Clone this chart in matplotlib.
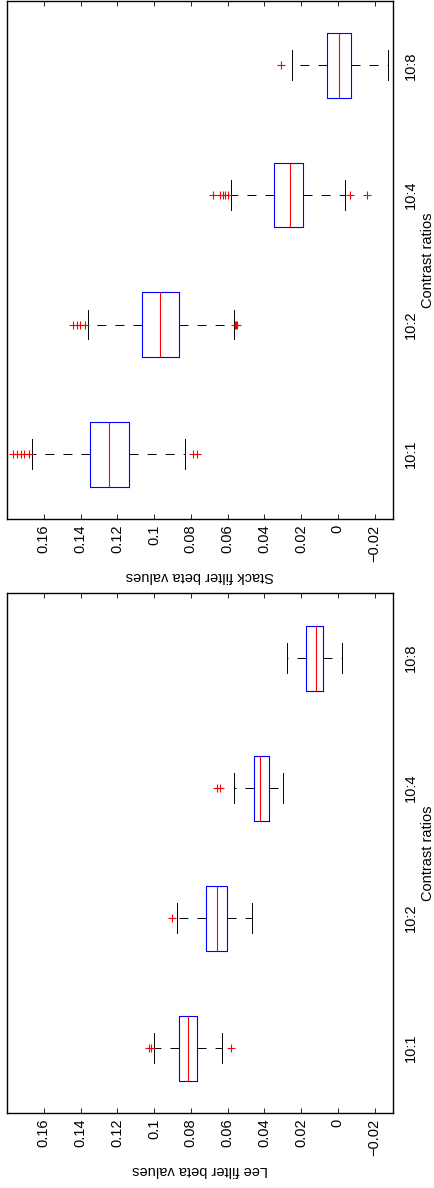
import matplotlib
matplotlib.use("Agg")
import matplotlib.pyplot as plt

plt.rcParams['font.family'] = ['Liberation Sans', 'DejaVu Sans']
plt.rcParams['lines.scale_dashes'] = False

# categories (bottom to top after rotation)
ratios = ["10:1", "10:2", "10:4", "10:8"]
value_ticks = [0.16, 0.14, 0.12, 0.1, 0.08, 0.06, 0.04, 0.02, 0, -0.02]
value_tick_labels = ["0.16", "0.14", "0.12", "0.1", "0.08", "0.06", "0.04", "0.02", "0", "\u22120.02"]

# Lee filter box stats
lee_med = [0.0815, 0.0659, 0.0422, 0.0120]
lee_q1 = [0.0764, 0.0604, 0.0374, 0.0081]
lee_q3 = [0.0864, 0.0719, 0.0454, 0.0173]
lee_lo = [0.0630, 0.0465, 0.0297, -0.0021]
lee_hi = [0.0998, 0.0875, 0.0563, 0.0278]
lee_out = [[0.1016, 0.1030, 0.0581], [0.0902], [0.0656, 0.0641], []]

# Stack filter box stats
stack_med = [0.1246, 0.0966, 0.0262, -0.0008]
stack_q1 = [0.1134, 0.0862, 0.0188, -0.0072]
stack_q3 = [0.1348, 0.1064, 0.0345, 0.0061]
stack_lo = [0.0831, 0.0566, -0.0041, -0.0271]
stack_hi = [0.1665, 0.1357, 0.0581, 0.0249]
stack_out = [[0.1765, 0.1744, 0.1725, 0.1707, 0.1678, 0.0786, 0.0768],
             [0.1439, 0.1420, 0.1402, 0.1375, 0.0559, 0.0554, 0.0548],
             [0.0677, 0.0641, 0.0626, 0.0612, 0.0597, -0.0066, -0.0157],
             [0.0309]]


def make_stats(med, q1, q3, lo, hi, out):
    stats = []
    for i in range(len(med)):
        stats.append(dict(med=med[i], q1=q1[i], q3=q3[i], whislo=lo[i],
                          whishi=hi[i], fliers=out[i]))
    return stats


W, H = 435, 1188
fig = plt.figure(figsize=(W / 100, H / 100), dpi=100)


def panel(rect_px, stats, ylab):
    x0, top, x1, bot = rect_px
    ax = fig.add_axes([x0 / W, 1 - bot / H, (x1 - x0) / W, (bot - top) / H])
    ax.bxp(stats, positions=[1, 2, 3, 4], widths=0.5, capwidths=0.23,
           orientation='horizontal',
           boxprops=dict(color='blue', linewidth=0.8),
           medianprops=dict(color='red', linewidth=0.8),
           whiskerprops=dict(color='black', linewidth=0.7, linestyle=(0, (6.5, 6.5))),
           capprops=dict(color='black', linewidth=0.7),
           flierprops=dict(marker='+', color='red', markeredgecolor='red',
                           markerfacecolor='red', markersize=6,
                           markeredgewidth=0.8, linestyle='none'))
    ax.set_xlim(0.18, -0.03)
    ax.set_ylim(0.5, 4.5)
    ax.set_xticks(value_ticks)
    ax.set_xticklabels(value_tick_labels, rotation=90, fontsize=10.5)
    ax.tick_params(axis='x', direction='in', top=True, length=3.6, width=0.6, pad=4)
    ax.set_yticks([1, 2, 3, 4])
    ax.set_yticklabels(ratios, rotation=90, va='center', fontsize=10.5)
    ax.yaxis.tick_right()
    ax.tick_params(axis='y', length=0, pad=8)
    ax.yaxis.set_label_position('right')
    ax.set_ylabel("Contrast ratios", rotation=90, fontsize=10.5, labelpad=2)
    ax.set_xlabel(ylab, rotation=180, fontsize=10.5, labelpad=5)
    for s in ax.spines.values():
        s.set_linewidth(1.0)
    return ax


panel((7, 0.5, 393, 519), make_stats(stack_med, stack_q1, stack_q3, stack_lo, stack_hi, stack_out),
      "Stack filter beta values")
panel((7, 593, 393, 1113), make_stats(lee_med, lee_q1, lee_q3, lee_lo, lee_hi, lee_out),
      "Lee filter beta values")

fig.savefig("out.png", dpi=100)
